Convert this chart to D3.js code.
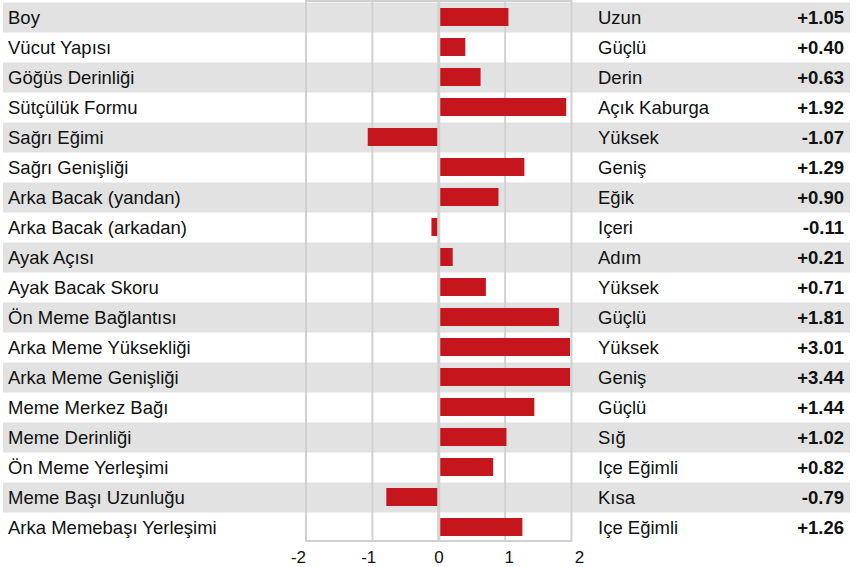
<!DOCTYPE html>
<html>
<head>
<meta charset="utf-8">
<script src="https://cdn.jsdelivr.net/npm/d3@7/dist/d3.min.js"></script>
<style>
  html, body { margin: 0; padding: 0; background: #fff; }
  svg { display: block; font-family: "Liberation Sans", Arial, Helvetica, sans-serif; }
</style>
</head>
<body>
<svg id="chart" width="864" height="567"></svg>
<script>
const traits = ["Boy","Vücut Yapısı","Göğüs Derinliği","Sütçülük Formu","Sağrı Eğimi","Sağrı Genişliği","Arka Bacak (yandan)","Arka Bacak (arkadan)","Ayak Açısı","Ayak Bacak Skoru","Ön Meme Bağlantısı","Arka Meme Yüksekliği","Arka Meme Genişliği","Meme Merkez Bağı","Meme Derinliği","Ön Meme Yerleşimi","Meme Başı Uzunluğu","Arka Memebaşı Yerleşimi"];
const descriptors = ["Uzun","Güçlü","Derin","Açık Kaburga","Yüksek","Geniş","Eğik","Içeri","Adım","Yüksek","Güçlü","Yüksek","Geniş","Güçlü","Sığ","Içe Eğimli","Kısa","Içe Eğimli"];
const values = [1.05,0.40,0.63,1.92,-1.07,1.29,0.90,-0.11,0.21,0.71,1.81,3.01,3.44,1.44,1.02,0.82,-0.79,1.26];
const tickValues = [-2,-1,0,1,2];
const gridValues = [-1,0,1];

const data = traits.map((t,i)=>({trait:t, desc:descriptors[i], value:values[i], i}));
const svg = d3.select("#chart");

const y = d3.scaleBand().domain(traits).range([2.5, 542.5]).padding(0);
const x = d3.scaleLinear().domain([-2,2]).range([306, 571.5]);
const xLabel = d3.scaleLinear().domain([-2,2]).range([298, 579]);

const FS = 18.5;

// row backgrounds
svg.append("g").selectAll("rect").data(data.filter(d=>d.i%2===0)).join("rect")
  .attr("x",3).attr("width",847)
  .attr("y",d=>y(d.trait)).attr("height",y.bandwidth())
  .attr("fill","#e2e2e2");

// grid lines
svg.append("g").selectAll("line").data(gridValues).join("line")
  .attr("x1",d=>x(d)).attr("x2",d=>x(d))
  .attr("y1",1).attr("y2",541)
  .attr("stroke","#d2d2d2").attr("stroke-width",d=>d===0?3:2);

// box
svg.append("rect").attr("x",x(-2)).attr("y",1)
  .attr("width",x(2)-x(-2)).attr("height",540)
  .attr("fill","none").attr("stroke","#d0d0d0").attr("stroke-width",2);

// bars
const barH = 18;
const x0 = x(0);
const xMax = x(2) - 1.5;
svg.append("g").selectAll("rect").data(data).join("rect")
  .attr("x",d=> d.value>=0 ? x0+1.5 : x(d.value))
  .attr("width",d=> d.value>=0 ? Math.min(x(d.value), xMax)-(x0+1.5) : (x0-1.5)-x(d.value))
  .attr("y",d=>y(d.trait)+y.bandwidth()/2-barH/2-0.5)
  .attr("height",barH)
  .attr("fill","#c5161d");

// left labels
svg.append("g").selectAll("text").data(data).join("text")
  .attr("x",8).attr("y",d=>y(d.trait)+y.bandwidth()/2)
  .attr("dy","0.36em")
  .attr("font-size",FS).attr("fill","#111")
  .text(d=>d.trait);

// right descriptors
svg.append("g").selectAll("text").data(data).join("text")
  .attr("x",598).attr("y",d=>y(d.trait)+y.bandwidth()/2)
  .attr("dy","0.36em")
  .attr("font-size",FS).attr("fill","#111")
  .text(d=>d.desc);

// values
const fmt = v => (v>=0?"+":"-") + Math.abs(v).toFixed(2);
svg.append("g").selectAll("text").data(data).join("text")
  .attr("x",844).attr("y",d=>y(d.trait)+y.bandwidth()/2)
  .attr("dy","0.36em")
  .attr("text-anchor","end")
  .attr("font-size",FS).attr("font-weight","bold").attr("fill","#111")
  .text(d=>fmt(d.value));

// axis
const axis = d3.axisBottom(xLabel).tickValues(tickValues).tickSize(0).tickPadding(0)
  .tickFormat(d=>d3.format("d")(d).replace("−","-"));
const ag = svg.append("g").attr("transform","translate(0,551)").call(axis);
ag.select(".domain").remove();
ag.selectAll("text").attr("font-size",17).attr("fill","#111")
  .attr("font-family","'Liberation Sans', Arial, sans-serif").attr("dy","0.71em");
</script>
</body>
</html>
